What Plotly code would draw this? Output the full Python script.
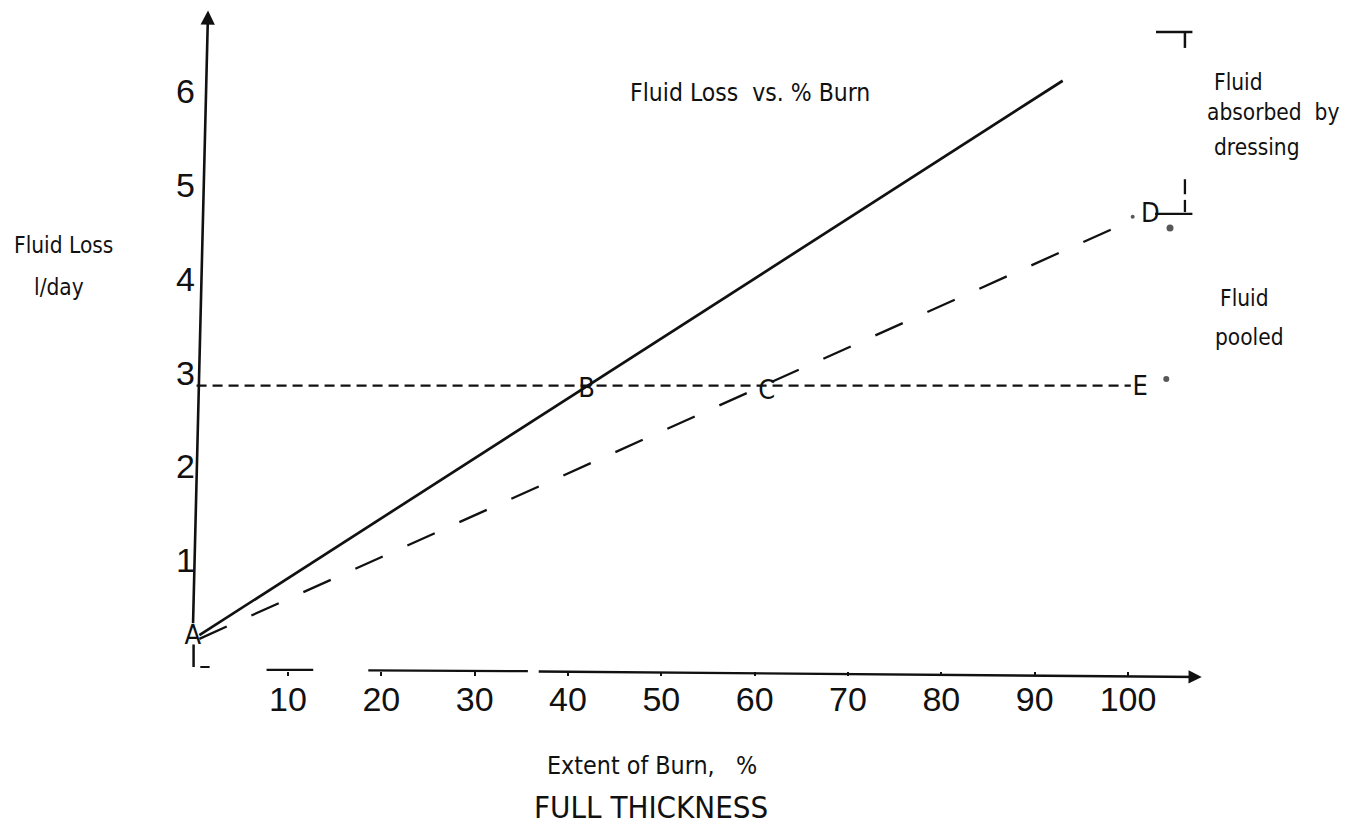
import plotly.graph_objects as go

W, H = 1357, 837

# ---- data -------------------------------------------------------------
# total fluid loss (l/day) against extent of full-thickness burn (%)
loss_x = [0.5, 93.0]
loss_y = [0.34, 6.25]
# fluid pooled (loss minus what the dressing absorbs)
pooled_x = [0.5, 99.0]
pooled_y = [0.30, 4.70]
# 3 l/day reference level
level_x = [0.2, 100.3]
level_y = [3.0, 3.0]

x_ticks = [10, 20, 30, 40, 50, 60, 70, 80, 90, 100]
y_ticks = [1, 2, 3, 4, 5, 6]

point_names = ["A", "B", "C", "D", "E"]
point_x = [-0.2, 42.0, 61.3, 102.4, 101.3]
point_y = [0.32, 2.95, 2.93, 4.82, 2.97]

# ---- styling ----------------------------------------------------------
INK = "#111111"
HAND = "Liberation Sans Narrow, DejaVu Sans Condensed, sans-serif"
NUM = "Liberation Sans, Arial, sans-serif"

# canvas spans the full page; axis origin sits at (195px, 667px)
X0_PX, X_SCALE = 194.7, 9.333
Y0_PX, Y_SCALE = 667.0, 93.8
x_range = [-X0_PX / X_SCALE, (W - X0_PX) / X_SCALE]
y_range = [(Y0_PX - H) / Y_SCALE, Y0_PX / Y_SCALE]

fig = go.Figure()


def seg(xs, ys, width=2.5, dash="solid"):
    fig.add_trace(go.Scatter(
        x=xs, y=ys, mode="lines", hoverinfo="skip", showlegend=False,
        line=dict(color=INK, width=width, dash=dash),
    ))


# main curves
seg(loss_x, loss_y, width=2.7)
seg(pooled_x, pooled_y, width=2.3, dash="30px,27px")
seg(level_x, level_y, width=2.3, dash="10px,6px")

# broken pieces of the hand-drawn x axis
seg([7.7, 12.7], [-0.03, -0.03], width=2.3)
seg([18.6, 35.7], [-0.035, -0.045], width=2.3)
# stub of the y axis below A
seg([-0.12, -0.12], [0.0, 0.24], width=2.5)
seg([0.6, 1.6], [0.0, 0.0], width=2.0)

# bracket marks on the right
seg([103.0, 106.9], [6.77, 6.77], width=2.5)
seg([106.1, 106.1], [6.77, 6.60], width=2.5)
seg([106.1, 106.1], [5.20, 5.04], width=2.3)
seg([106.1, 106.1], [4.98, 4.85], width=2.3)
seg([102.9, 106.9], [4.83, 4.83], width=2.3)

# stray dots
fig.add_trace(go.Scatter(
    x=[104.5, 104.1, 100.5], y=[4.68, 3.07, 4.80], mode="markers",
    marker=dict(color=INK, size=[7, 6, 4], line=dict(width=0)),
    hoverinfo="skip", showlegend=False, cliponaxis=False,
))

# point letters
fig.add_trace(go.Scatter(
    x=point_x, y=point_y, mode="text", text=point_names,
    textfont=dict(family=HAND, size=27, color=INK),
    hoverinfo="skip", showlegend=False, cliponaxis=False,
))

# axis arrows
fig.add_annotation(x=107.9, y=-0.107, ax=36.7, ay=-0.048,
                   xref="x", yref="y", axref="x", ayref="y", text="",
                   showarrow=True, arrowhead=2, arrowsize=1.1,
                   arrowwidth=2.4, arrowcolor=INK, standoff=0)
fig.add_annotation(x=1.43, y=7.0, ax=-0.18, ay=0.45,
                   xref="x", yref="y", axref="x", ayref="y", text="",
                   showarrow=True, arrowhead=2, arrowsize=1.1,
                   arrowwidth=2.6, arrowcolor=INK, standoff=0)


def label(text, px, py, size, anchor="left"):
    fig.add_annotation(
        x=px / W, y=1 - py / H, xref="paper", yref="paper",
        text=text, showarrow=False, xanchor=anchor, yanchor="middle",
        font=dict(family=HAND, size=size, color=INK),
    )


label("Fluid Loss  vs. % Burn", 628, 92, 24.5)
label("Fluid Loss", 12, 245, 22.5)
label("l/day", 32, 287, 22.5)
label("Extent of Burn,   %", 545, 765, 24.8)
label("FULL THICKNESS", 651, 807, 31, anchor="center")
label("Fluid", 1212, 82, 22.5)
label("absorbed  by", 1205, 112, 22.5)
label("dressing", 1212, 147, 22.5)
label("Fluid", 1218, 298, 22.5)
label("pooled", 1213, 337, 22.5)

fig.update_layout(
    width=W, height=H, autosize=False,
    margin=dict(l=0, r=0, t=0, b=0),
    paper_bgcolor="white", plot_bgcolor="white",
    showlegend=False,
    xaxis=dict(
        range=x_range, domain=[0, 1], anchor="free",
        position=(H - 671) / H,
        showgrid=False, zeroline=False, showline=False,
        tickmode="array", tickvals=x_ticks,
        ticktext=[str(v) for v in x_ticks],
        ticks="outside", ticklen=4, tickwidth=2, tickcolor=INK,
        ticklabelstandoff=-6,
        tickfont=dict(family=NUM, size=34, color=INK),
        automargin=False, fixedrange=True,
    ),
    yaxis=dict(
        range=y_range, domain=[0, 1], anchor="free",
        position=195 / W,
        showgrid=False, zeroline=False, showline=False,
        tickmode="array", tickvals=y_ticks,
        ticktext=[str(v) for v in y_ticks],
        ticks="", ticklabelshift=-13, ticklabelstandoff=0,
        tickfont=dict(family=NUM, size=34, color=INK),
        automargin=False, fixedrange=True,
    ),
)

fig.write_html("out.html")
